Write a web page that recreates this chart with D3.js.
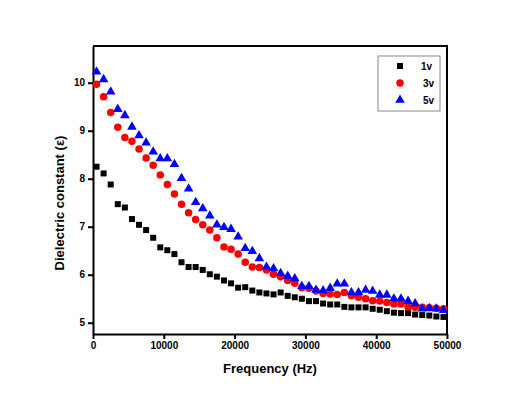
<!DOCTYPE html>
<meta charset="utf-8">
<style>
  body {
    margin: 0;
    background: #fff;
    font-family: 'Liberation Sans', Arial, sans-serif;
  }

  .axis path,
  .axis line {
    fill: none;
    stroke: #000;
    stroke-width: 2;
  }

  .axis text {
    font-size: 10px;
    font-weight: bold;
    fill: #000;
  }

  .axisLabel {
    font-size: 13px;
    font-weight: bold;
  }
</style>

<body>
  <div id="my_dataviz"></div>
  <script src="https://d3js.org/d3.v7.min.js"></script>

  <script>
    // frequency (Hz)
    var freq = [500, 1500, 2500, 3500, 4500, 5500, 6500, 7500, 8500, 9500,
      10500, 11500, 12500, 13500, 14500, 15500, 16500, 17500, 18500, 19500,
      20500, 21500, 22500, 23500, 24500, 25500, 26500, 27500, 28500, 29500,
      30500, 31500, 32500, 33500, 34500, 35500, 36500, 37500, 38500, 39500,
      40500, 41500, 42500, 43500, 44500, 45500, 46500, 47500, 48500, 49500];

    var v1 = [8.25, 8.11, 7.88, 7.47, 7.40, 7.16, 7.04, 6.93, 6.77, 6.57,
      6.51, 6.43, 6.26, 6.16, 6.16, 6.10, 6.01, 5.96, 5.88, 5.82,
      5.73, 5.74, 5.67, 5.63, 5.61, 5.59, 5.63, 5.56, 5.53, 5.50,
      5.45, 5.45, 5.40, 5.38, 5.38, 5.33, 5.32, 5.32, 5.32, 5.29,
      5.27, 5.24, 5.21, 5.20, 5.20, 5.17, 5.16, 5.15, 5.13, 5.12];

    var v3 = [9.97, 9.71, 9.38, 9.07, 8.86, 8.78, 8.62, 8.43, 8.28, 8.08,
      7.88, 7.68, 7.47, 7.29, 7.15, 7.04, 6.93, 6.77, 6.58, 6.53,
      6.43, 6.26, 6.16, 6.15, 6.10, 6.01, 5.96, 5.88, 5.82, 5.73,
      5.72, 5.66, 5.61, 5.60, 5.59, 5.63, 5.56, 5.53, 5.50, 5.46,
      5.45, 5.42, 5.39, 5.39, 5.33, 5.32, 5.32, 5.31, 5.30, 5.29];

    var v5 = [10.23, 10.07, 9.81, 9.45, 9.32, 9.08, 8.90, 8.75, 8.56, 8.42,
      8.42, 8.30, 8.01, 7.79, 7.51, 7.38, 7.23, 7.04, 6.99, 6.95,
      6.79, 6.55, 6.49, 6.34, 6.16, 6.13, 6.03, 5.97, 5.92, 5.76,
      5.76, 5.68, 5.67, 5.72, 5.81, 5.81, 5.63, 5.63, 5.68, 5.66,
      5.58, 5.58, 5.50, 5.50, 5.45, 5.40, 5.29, 5.30, 5.29, 5.26];

    var xTicks = [0, 10000, 20000, 30000, 40000, 50000];
    var yTicks = [5, 6, 7, 8, 9, 10];

    var series = [
      { name: "1v", values: v1, color: "#000000", shape: d3.symbolSquare, size: 36 },
      { name: "3v", values: v3, color: "#ff0000", shape: d3.symbolCircle, size: 44 },
      { name: "5v", values: v5, color: "#0000ff", shape: d3.symbolTriangle, size: 40 }
    ];

    var W = 520, H = 402;
    var margin = { top: 46, right: 73, bottom: 68, left: 93 },
      width = W - margin.left - margin.right,
      height = H - margin.top - margin.bottom;

    var svg = d3.select("#my_dataviz")
      .append("svg")
      .attr("width", W)
      .attr("height", H)
      .append("g")
      .attr("transform", "translate(" + margin.left + "," + margin.top + ")");

    var x = d3.scaleLinear().domain([0, 50000]).range([0, width]);
    var y = d3.scaleLinear().domain([4.765, 10.765]).range([height, 0]);

    // axes
    svg.append("g")
      .attr("class", "axis")
      .attr("transform", "translate(0," + height + ")")
      .call(d3.axisBottom(x).tickValues(xTicks).tickSize(5).tickSizeOuter(0).tickPadding(3).tickFormat(d3.format("d")));

    svg.append("g")
      .attr("class", "axis")
      .call(d3.axisLeft(y).tickValues(yTicks).tickSize(5).tickSizeOuter(0).tickPadding(3).tickFormat(d3.format("d")));

    // frame top / right
    svg.append("path")
      .attr("d", "M0,0H" + width + "V" + height)
      .attr("fill", "none")
      .attr("stroke", "#000")
      .attr("stroke-width", 2);

    // points
    series.forEach(function(s) {
      svg.append("g")
        .selectAll("path")
        .data(freq.map(function(f, i) { return [f, s.values[i]]; }))
        .enter()
        .append("path")
        .attr("d", d3.symbol().type(s.shape).size(s.size))
        .attr("transform", function(d) {
          return "translate(" + x(d[0]) + "," + y(d[1]) + ")";
        })
        .attr("fill", s.color);
    });

    // legend
    var lg = svg.append("g").attr("transform", "translate(" + (378 - margin.left) + "," + (56 - margin.top) + ")");
    lg.append("rect")
      .attr("width", 62).attr("height", 55)
      .attr("fill", "#fff")
      .attr("stroke", "#888")
      .attr("stroke-width", 1);
    series.forEach(function(s, i) {
      var yy = 10 + i * 17;
      lg.append("path")
        .attr("d", d3.symbol().type(s.shape).size(s.size))
        .attr("transform", "translate(22," + yy + ")")
        .attr("fill", s.color);
      lg.append("text")
        .attr("x", i === 0 ? 43 : 45)
        .attr("y", yy + 4)
        .style("font-size", "10px")
        .style("font-weight", "bold")
        .text(s.name);
    });

    // x label
    svg.append("text")
      .attr("class", "axisLabel")
      .attr("x", width / 2)
      .attr("y", height + 39)
      .attr("text-anchor", "middle")
      .text("Frequency (Hz)");

    // y label
    svg.append("text")
      .attr("class", "axisLabel")
      .attr("transform", "rotate(-90)")
      .attr("x", -(203 - margin.top))
      .attr("y", -29)
      .attr("text-anchor", "middle")
      .text("Dielectric constant (ε)");
  </script>
</body>
